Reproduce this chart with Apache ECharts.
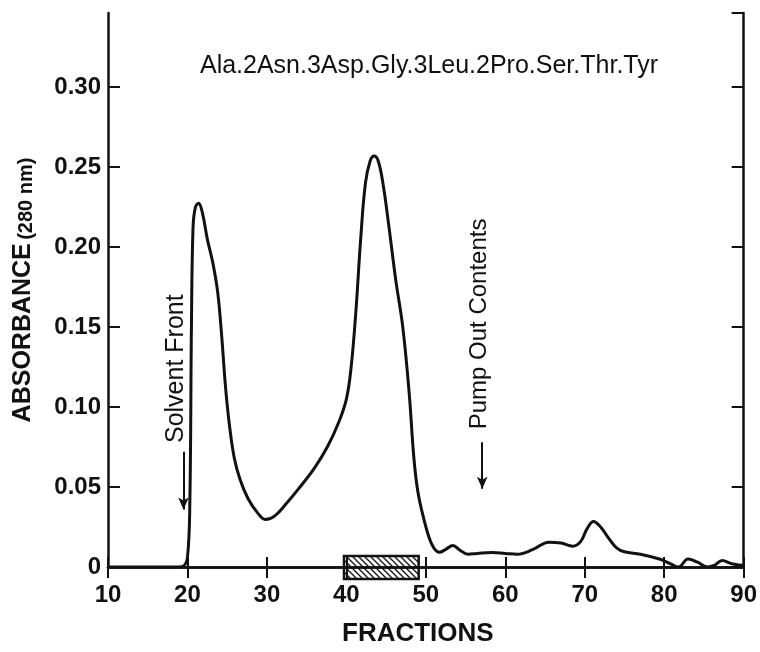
<!DOCTYPE html>
<html>
<head>
<meta charset="utf-8">
<script src="https://cdn.jsdelivr.net/npm/echarts@6/dist/echarts.min.js"></script>
<style>
  html, body { margin: 0; background: #fff; }
  #chart { width: 760px; height: 652px; }
</style>
</head>
<body>
<div id="chart"></div>
<script>
// fraction number / absorbance
const fractions = [10, 15, 19, 19.5, 20.0, 20.3, 20.5, 20.7, 21.0, 21.4, 21.9, 22.5, 23.2, 23.8, 24.3, 24.8, 25.3, 25.9, 26.6, 27.6, 28.8, 29.8,
    31.0, 32.5, 34.0, 36.0, 37.6, 39.0, 40.0, 40.6, 41.2, 41.8, 42.4, 43.0, 43.5, 44.0, 44.6, 45.3, 46.2, 47.1, 47.9, 48.5, 49.0, 49.7,
    50.4, 51.0, 51.7, 52.5, 53.4, 54.3, 55.3, 56.5, 58.3, 60.0, 61.5, 63.5, 65.5, 67.0, 68.5, 69.5, 70.3, 71.1, 72.0, 73.0, 74.0, 75.0,
    77.0, 79.4, 80.8, 81.8, 83.0, 84.2, 85.4, 86.3, 87.3, 88.5, 90];
const absorbance = [0, 0, 0, 0.0005, 0.006, 0.04, 0.15, 0.212, 0.225, 0.2275, 0.221, 0.205, 0.19, 0.172, 0.145, 0.112, 0.088, 0.068, 0.055, 0.043, 0.034, 0.0297,
    0.032, 0.04, 0.049, 0.062, 0.075, 0.09, 0.105, 0.125, 0.16, 0.205, 0.24, 0.254, 0.257, 0.254, 0.24, 0.215, 0.18, 0.15, 0.109, 0.068, 0.047, 0.031,
    0.0186, 0.012, 0.0092, 0.011, 0.0135, 0.0105, 0.008, 0.0085, 0.009, 0.0085, 0.008, 0.011, 0.0155, 0.015, 0.013, 0.016, 0.024, 0.0285, 0.025, 0.018, 0.012, 0.0095,
    0.008, 0.005, 0.002, 0, 0.005, 0.003, 0, 0.001, 0.004, 0.002, 0.001];

// pooled fractions (hatched bar on the axis)
const pooledFractions = [39.7, 49.1];

// annotations: [fraction, absorbance of text centre], arrows: [fraction, from, to]
const solventLabel = [18.6, 0.124];
const solventArrow = [19.5, 0.072, 0.036];
const pumpLabel = [56.7, 0.152];
const pumpArrow = [57.1, 0.078, 0.049];

const xMin = 10, xMax = 90, xStep = 10;
const yMin = 0, yMax = 0.3464, yStep = 0.05;

const ink = '#111';
const fontFamily = '"Liberation Sans", Arial, Helvetica, sans-serif';

const hatch = document.createElement('canvas');
hatch.width = 6;
hatch.height = 6;
{
    const ctx = hatch.getContext('2d');
    ctx.strokeStyle = ink;
    ctx.lineWidth = 1.3;
    ctx.beginPath();
    ctx.moveTo(-3, 3); ctx.lineTo(3, 9);
    ctx.moveTo(0, 0); ctx.lineTo(6, 6);
    ctx.moveTo(3, -3); ctx.lineTo(9, 3);
    ctx.stroke();
}

const chart = echarts.init(document.getElementById('chart'), null, { renderer: 'canvas' });

const tickLabel = { color: ink, fontFamily, fontSize: 24, fontWeight: 'bold' };
const frame = { show: true, lineStyle: { color: ink, width: 2.5 } };

chart.setOption({
    animation: false,
    textStyle: { fontFamily },
    title: {
        text: 'Ala.2Asn.3Asp.Gly.3Leu.2Pro.Ser.Thr.Tyr',
        left: 424,
        textAlign: 'center',
        top: 49,
        textStyle: { color: ink, fontFamily, fontSize: 25, fontWeight: 'normal' },
    },
    grid: { left: 108, right: 12, top: 13, bottom: 79 },
    xAxis: [
        {
            type: 'value',
            position: 'bottom',
            min: xMin,
            max: xMax,
            interval: xStep,
            axisLine: frame,
            axisTick: { show: true, inside: true, length: 10, lineStyle: { color: ink, width: 2 } },
            axisLabel: { ...tickLabel, margin: 16 },
            splitLine: { show: false },
            name: 'FRACTIONS',
            nameLocation: 'middle',
            nameGap: 54,
            nameTextStyle: { ...tickLabel, fontSize: 26, padding: [0, 16, 0, 0] },
        },
        {
            type: 'value',
            position: 'top',
            min: xMin,
            max: xMax,
            interval: xStep,
            axisLine: frame,
            axisTick: { show: true, inside: true, length: 11, lineStyle: { color: ink, width: 2 } },
            axisLabel: { show: false },
            splitLine: { show: false },
        },
    ],
    yAxis: [
        {
            type: 'value',
            position: 'left',
            min: yMin,
            max: yMax,
            interval: yStep,
            axisLine: frame,
            axisTick: { show: true, inside: true, length: 12, lineStyle: { color: ink, width: 2 } },
            axisLabel: {
                ...tickLabel,
                margin: 7,
                showMaxLabel: false,
                formatter: (v) => (v === 0 ? '0' : v.toFixed(2)),
            },
            splitLine: { show: false },
            name: '{a|ABSORBANCE} {b|(280 nm)}',
            nameLocation: 'middle',
            nameGap: 72,
            nameTextStyle: {
                color: ink,
                rich: {
                    a: { fontFamily, fontSize: 25, fontWeight: 'bold', color: ink, verticalAlign: 'bottom' },
                    b: { fontFamily, fontSize: 20, fontWeight: 'bold', color: ink, verticalAlign: 'bottom' },
                },
            },
        },
        {
            type: 'value',
            position: 'right',
            min: yMin,
            max: yMax,
            interval: yStep,
            axisLine: frame,
            axisTick: { show: true, inside: true, length: 12, lineStyle: { color: ink, width: 2 } },
            axisLabel: { show: false },
            splitLine: { show: false },
        },
    ],
    series: [
        {
            type: 'line',
            data: fractions.map((f, i) => [f, absorbance[i]]),
            showSymbol: false,
            smooth: 0.4,
            lineStyle: { color: ink, width: 3 },
            silent: true,
            z: 3,
            markLine: {
                silent: true,
                symbol: ['none', 'arrow'],
                symbolSize: [8, 12],
                lineStyle: { color: ink, width: 2, type: 'solid' },
                label: { show: false },
                data: [solventArrow, pumpArrow].map(([x, from, to]) => [
                    { coord: [x, from] },
                    { coord: [x, to] },
                ]),
            },
        },
        {
            type: 'custom',
            silent: true,
            clip: false,
            data: [pooledFractions],
            encode: { x: [0, 1] },
            z: 5,
            renderItem: (params, api) => {
                const start = api.coord([api.value(0), 0]);
                const end = api.coord([api.value(1), 0]);
                return {
                    type: 'rect',
                    shape: { x: start[0], y: start[1] - 11, width: end[0] - start[0], height: 23 },
                    style: { fill: { image: hatch, repeat: 'repeat' }, stroke: ink, lineWidth: 2.5 },
                };
            },
        },
    ],
});

const annotation = (text, at, size) => {
    const [x, y] = chart.convertToPixel({ gridIndex: 0 }, at);
    return {
        type: 'text',
        x,
        y,
        rotation: Math.PI / 2,
        style: {
            text,
            fill: ink,
            font: `normal ${size}px ${fontFamily}`,
            align: 'center',
            verticalAlign: 'middle',
        },
        silent: true,
        z: 10,
    };
};

chart.setOption({
    graphic: [
        annotation('Solvent Front', solventLabel, 25),
        annotation('Pump Out Contents', pumpLabel, 24),
    ],
});
</script>
</body>
</html>
